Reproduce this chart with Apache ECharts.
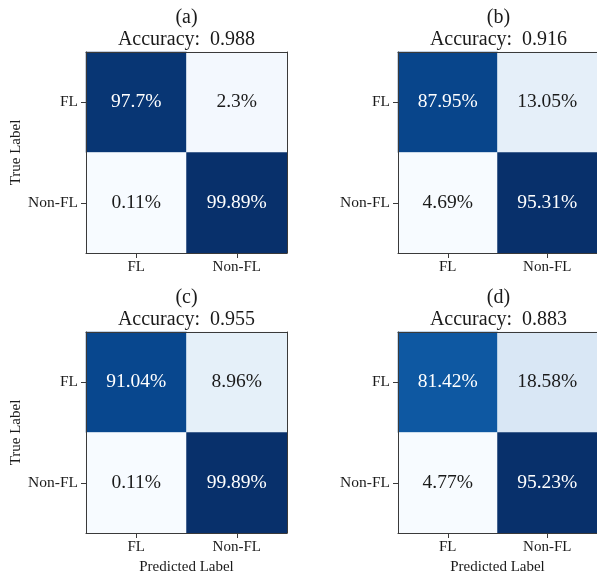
<!DOCTYPE html>
<html>
<head>
<meta charset="utf-8">
<script src="https://cdn.jsdelivr.net/npm/echarts@6/dist/echarts.min.js"></script>
<style>
html, body { margin: 0; padding: 0; background: #fff; }
#chart { width: 597px; height: 579px; }
</style>
</head>
<body>
<div id="chart"></div>
<script>
// class names (rows = true label, cols = predicted label)
var classes = ['FL', 'Non-FL'];
var panelNames = ['(a)', '(b)', '(c)', '(d)'];
var accuracy = ['0.988', '0.916', '0.955', '0.883'];

// confusion matrices in percent
var cmA = [[97.7, 2.3], [0.11, 99.89]];
var cmB = [[87.95, 13.05], [4.69, 95.31]];
var cmC = [[91.04, 8.96], [0.11, 99.89]];
var cmD = [[81.42, 18.58], [4.77, 95.23]];

var matrices = [cmA, cmB, cmC, cmD];
var blues = ['#f7fbff', '#deebf7', '#c6dbef', '#9ecae1', '#6baed6', '#4292c6', '#2171b5', '#08519c', '#08306b'];

var font = 'Liberation Serif';
var ink = '#1a1a1a';
var frame = '#3a3a3a';

var myChart = echarts.init(document.getElementById('chart'));

var boxes = [
	{ left: 86, top: 52 },
	{ left: 398, top: 52 },
	{ left: 86, top: 332 },
	{ left: 398, top: 332 }
];
var size = 201;

var grid = [], xAxis = [], yAxis = [], series = [], visualMap = [], title = [];

matrices.forEach(function (cm, i) {
	var box = boxes[i];
	var flat = [];
	cm.forEach(function (row) { flat = flat.concat(row); });
	var lo = Math.min.apply(null, flat);
	var hi = Math.max.apply(null, flat);

	grid.push({ left: box.left, top: box.top, width: size, height: size });

	title.push({
		text: panelNames[i],
		subtext: 'Accuracy:  ' + accuracy[i],
		left: box.left + size / 2,
		top: box.top - 44,
		textAlign: 'center',
		padding: 0,
		itemGap: 2,
		textStyle: { fontFamily: font, fontSize: 20, fontWeight: 'normal', color: ink },
		subtextStyle: { fontFamily: font, fontSize: 20, color: ink }
	});

	// bottom and left axes with ticks / labels
	xAxis.push({
		type: 'category', gridIndex: i, data: classes, position: 'bottom', z: 10,
		name: i >= 2 ? 'Predicted Label' : '',
		nameLocation: 'middle', nameGap: 27,
		nameTextStyle: { fontFamily: font, fontSize: 15, color: ink },
		axisLine: { show: true, lineStyle: { color: frame, width: 1 } },
		axisTick: { show: true, alignWithLabel: true, length: 5, lineStyle: { color: frame } },
		axisLabel: { fontFamily: font, fontSize: 15, color: ink, margin: 7 },
		splitLine: { show: false }
	});
	yAxis.push({
		type: 'category', gridIndex: i, data: classes, inverse: true, position: 'left', z: 10,
		name: i % 2 === 0 ? 'True Label' : '',
		nameLocation: 'middle', nameGap: 62,
		nameTextStyle: { fontFamily: font, fontSize: 15, color: ink },
		axisLine: { show: true, lineStyle: { color: frame, width: 1 } },
		axisTick: { show: true, alignWithLabel: true, length: 5, lineStyle: { color: frame } },
		axisLabel: { fontFamily: font, fontSize: 15.5, color: ink, margin: 8 },
		splitLine: { show: false }
	});
	// top and right spines
	xAxis.push({
		type: 'category', gridIndex: i, data: classes, position: 'top', z: 10,
		axisLine: { show: true, lineStyle: { color: frame, width: 1 } },
		axisTick: { show: false }, axisLabel: { show: false }, splitLine: { show: false }
	});
	yAxis.push({
		type: 'category', gridIndex: i, data: classes, inverse: true, position: 'right', z: 10,
		axisLine: { show: true, lineStyle: { color: frame, width: 1 } },
		axisTick: { show: false }, axisLabel: { show: false }, splitLine: { show: false }
	});

	var data = [];
	cm.forEach(function (row, r) {
		row.forEach(function (v, c) {
			data.push({
				value: [c, r, v],
				label: { color: v > (lo + hi) / 2 ? '#ffffff' : ink }
			});
		});
	});

	visualMap.push({
		type: 'continuous', show: false, seriesIndex: i, dimension: 2,
		min: lo, max: hi, inRange: { color: blues }
	});

	series.push({
		type: 'heatmap',
		xAxisIndex: i * 2,
		yAxisIndex: i * 2,
		data: data,
		label: {
			show: true,
			fontFamily: font,
			fontSize: 19.5,
			formatter: function (p) { return p.value[2] + '%'; }
		},
		emphasis: { disabled: true }
	});
});

myChart.setOption({
	backgroundColor: '#fff',
	animation: false,
	title: title,
	grid: grid,
	xAxis: xAxis,
	yAxis: yAxis,
	visualMap: visualMap,
	series: series
});

window.addEventListener('resize', function () {
	myChart.resize();
});
</script>
</body>
</html>
